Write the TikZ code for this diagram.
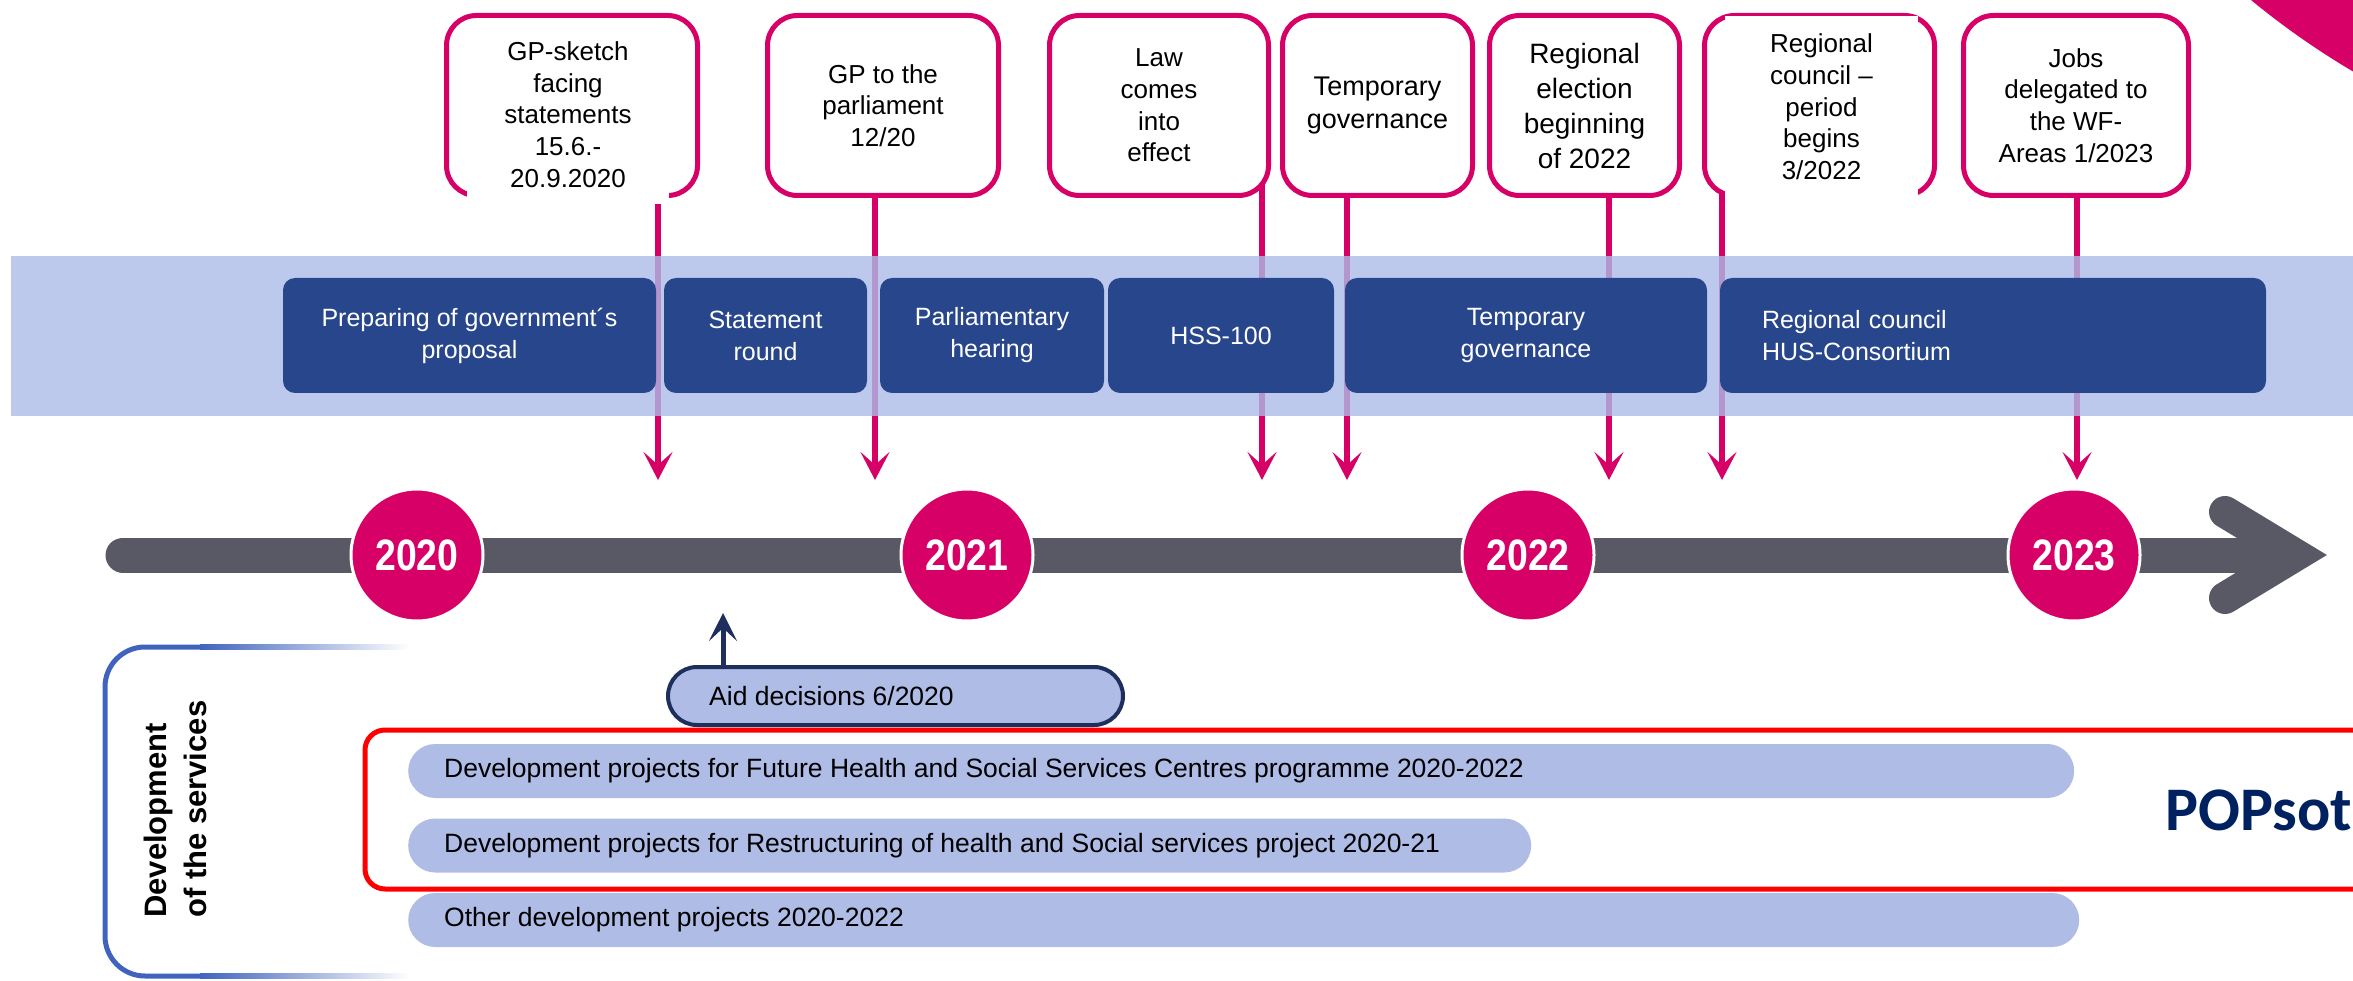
\documentclass[tikz,border=0pt]{standalone}
\usepackage{fontspec}
\setmainfont{Liberation Sans}
\newfontfamily\popfont{Carlito}
\usetikzlibrary{arrows.meta}
\pgfdeclarelayer{background}
\pgfsetlayers{background,main}
\definecolor{huspink}{RGB}{215,0,102}
\definecolor{bandblue}{RGB}{171,188,231}
\definecolor{phaseblue}{RGB}{40,70,140}
\definecolor{axisgrey}{RGB}{89,89,102}
\definecolor{barblue}{RGB}{174,188,230}
\definecolor{aidnavy}{RGB}{30,47,94}
\definecolor{popnavy}{RGB}{0,33,96}
\definecolor{frameblue}{RGB}{64,100,190}

\begin{document}
\begin{tikzpicture}[x=1pt, y=-1pt,
    callout/.style={draw=huspink, fill=white, line width=5pt, rounded corners=30pt, minimum height=180pt, inner sep=0pt, align=center, font=\fontsize{26}{31.7}\selectfont},
    cover/.style={fill=white, inner sep=0pt, align=center, font=\fontsize{26}{31.7}\selectfont},
    phase/.style={fill=phaseblue, rounded corners=12pt, minimum height=115pt, text=white, align=center, font=\fontsize{25}{32}\selectfont},
    pinkarrow/.style={draw=huspink, line width=6pt, -{Stealth[length=28pt, width=29pt, inset=13pt]}},
    aidarrow/.style={draw=aidnavy, line width=5pt, -{Stealth[length=28pt, width=28pt, inset=13pt]}},
    year/.style={circle, fill=huspink, draw=white, line width=3pt, minimum size=132pt, inner sep=0pt, text=white, font=\bfseries\fontsize{44}{44}\selectfont},
    axis/.style={draw=axisgrey, line width=35pt, line cap=round},
    project/.style={fill=barblue, rounded corners=27pt, minimum height=54pt, anchor=west, inner sep=0pt},
    projecttext/.style={anchor=west, inner sep=0pt, font=\fontsize{26.5}{30}\selectfont}
]
    \useasboundingbox (0,0) rectangle (2353,981);
    \clip (0,0) rectangle (2353,981);
    \fill[huspink] (2759,-618) circle[radius=800pt];

    \fill[bandblue, opacity=0.8] (11,256) rectangle (2353,416);
    \node[phase, minimum width=373pt] (prep) at (469.5,335.5) {Preparing of government´s\\proposal};
    \node[phase, minimum width=203pt] (stmt) at (765.5,335.5) {Statement\\round};
    \node[phase, minimum width=224pt] (hear) at (992,335.5) {Parliamentary\\hearing};
    \node[phase, minimum width=226pt] (hss) at (1221,335.5) {HSS-100};
    \node[phase, minimum width=362pt] (temp) at (1526,335.5) {Temporary\\governance};
    \node[phase, minimum width=546pt, text width=462pt, inner xsep=42pt, align=left] (council) at (1993,335.5) {Regional council\\HUS-Consortium};

    \node[callout, minimum width=251pt] (c1) at (572,105.5) {};
    \node[cover, minimum width=202pt, minimum height=179pt] (c1text) at (568,114.5) {GP-sketch\\facing\\statements\\15.6.-\\20.9.2020};
    \node[callout, minimum width=231pt] (c2) at (883,105.5) {GP to the\\parliament\\12/20};
    \node[callout, minimum width=219pt] (c3) at (1159,105.5) {Law\\comes\\into\\effect};
    \node[callout, minimum width=190pt, font=\fontsize{27}{33}\selectfont] (c4) at (1377.5,105.5) {Temporary\\governance};
    \node[callout, minimum width=190pt, font=\fontsize{28}{35}\selectfont] (c5) at (1584.5,105.5) {Regional\\election\\beginning\\of 2022};
    \node[callout, minimum width=230pt] (c6) at (1819.5,105.5) {};
    \node[cover, minimum width=193pt, minimum height=182pt] (c6text) at (1821.5,107) {Regional\\council --\\period\\begins\\3/2022};
    \node[callout, minimum width=225pt] (c7) at (2076,105.5) {Jobs\\delegated to\\the WF-\\Areas 1/2023};

    \coordinate (t1) at (658,480);
    \coordinate (t2) at (875,480);
    \coordinate (t3) at (1262,480);
    \coordinate (t4) at (1347,480);
    \coordinate (t5) at (1609,480);
    \coordinate (t6) at (1722,480);
    \coordinate (t7) at (2077,480);
    \begin{pgfonlayer}{background}
        \draw[pinkarrow] (c1.center -| t1) -- (t1);
        \draw[pinkarrow] (c2.center -| t2) -- (t2);
        \draw[pinkarrow] (c3.center -| t3) -- (t3);
        \draw[pinkarrow] (c4.center -| t4) -- (t4);
        \draw[pinkarrow] (c5.center -| t5) -- (t5);
        \draw[pinkarrow] (c6.center -| t6) -- (t6);
        \draw[pinkarrow] (c7.center -| t7) -- (t7);
    \end{pgfonlayer}

    \coordinate (axisstart) at (123,555);
    \coordinate (axisend) at (2296,555);
    \coordinate (headtop) at (2225,512);
    \coordinate (headbot) at (2225,598);
    \draw[axis, shorten >=30pt] (axisstart) -- (axisend);
    \draw[axis, line width=32pt, line join=miter] (headtop) -- (axisend) -- (headbot);
    \node[year] (y2020) at (417,555) {\scalebox{0.85}[1]{2020}};
    \node[year] (y2021) at (967,555) {\scalebox{0.85}[1]{2021}};
    \node[year] (y2022) at (1528,555) {\scalebox{0.85}[1]{2022}};
    \node[year] (y2023) at (2074,555) {\scalebox{0.85}[1]{2023}};

    \draw[red, line width=5pt, rounded corners=20pt] (365,730) rectangle (2420,889);
    \node[project, minimum width=1666pt] (p1) at (408,771) {};
    \node[projecttext] (p1text) at ([xshift=36pt]p1.west) {Development projects for Future Health and Social Services Centres programme 2020-2022};
    \node[project, minimum width=1123pt] (p2) at (408,845.5) {};
    \node[projecttext] (p2text) at ([xshift=36pt]p2.west) {Development projects for Restructuring of health and Social services project 2020-21};
    \node[project, minimum width=1671pt] (p3) at (408,920) {};
    \node[projecttext] (p3text) at ([xshift=36pt]p3.west) {Other development projects 2020-2022};
    \node[anchor=base west, inner sep=0pt, text=popnavy, font=\popfont\bfseries\fontsize{62}{62}\selectfont] (pop) at (2165,830) {POPsot};

    \node[draw=aidnavy, fill=barblue, line width=4pt, rounded corners=29pt, minimum width=455pt, minimum height=58pt] (aid) at (895.5,696) {};
    \node[projecttext] (aidtext) at ([xshift=43pt]aid.west) {Aid decisions 6/2020};
    \coordinate (aidtip) at (723,613);
    \draw[aidarrow] (aid.north -| aidtip) -- (aidtip);

    \draw[frameblue, line width=5pt, rounded corners=40pt] (200,647) -- (105,647) -- (105,976) -- (200,976);
    \shade[left color=frameblue, right color=white] (200,644.5) rectangle (410,649.5);
    \shade[left color=frameblue, right color=white] (200,973.5) rectangle (410,978.5);
    \node[rotate=90, anchor=west, align=left, inner sep=0pt, font=\bfseries\fontsize{31}{40}\selectfont] (devlabel) at (175,918) {Development\\of the services};
\end{tikzpicture}
\end{document}
